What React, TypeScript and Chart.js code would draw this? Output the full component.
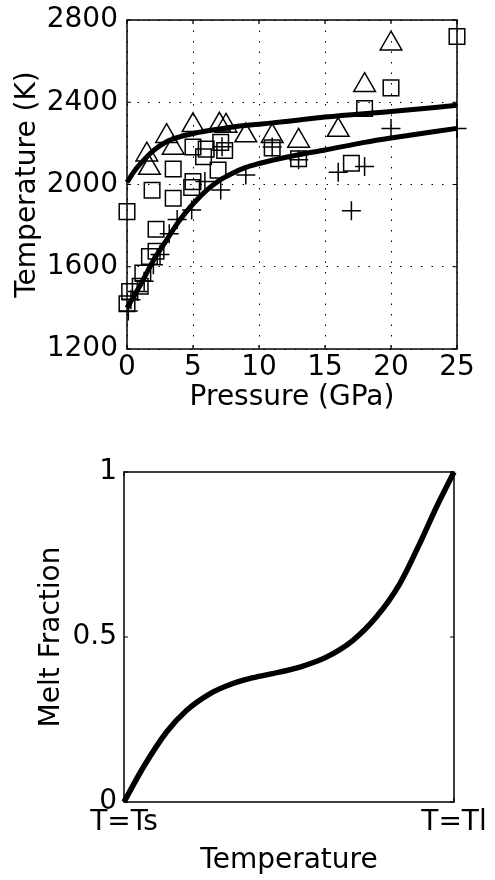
import { useEffect, useRef } from "react";
import { Chart, registerables } from "chart.js";
Chart.register(...registerables);

// ---------- Top panel data ----------
const pressureTicks = [0, 5, 10, 15, 20, 25];
const temperatureTicks = [1200, 1600, 2000, 2400, 2800];

const squareP = [0, 0.2, 1.0, 1.2, 1.7, 2.2, 2.2, 0, 1.9, 3.5, 3.5, 4.9, 5.0, 5.0, 5.8, 6.0, 6.9, 7.1, 7.4, 11, 13, 17, 18, 20, 25];
const squareT = [1420, 1480, 1505, 1570, 1650, 1675, 1782, 1868, 1972, 1933, 2075, 1985, 2014, 2182, 2135, 2172, 2070, 2205, 2165, 2178, 2125, 2103, 2370, 2470, 2720];

const triangleP = [1.5, 1.7, 3.0, 3.5, 5.0, 7.0, 7.5, 9.0, 11, 13, 16, 18, 20];
const triangleT = [2145, 2080, 2235, 2178, 2288, 2290, 2285, 2238, 2235, 2212, 2265, 2483, 2685];

const plusP = [0.1, 0.3, 0.8, 1.3, 2.0, 2.5, 3.2, 3.8, 4.9, 5.9, 7.1, 7.2, 9.0, 11, 13, 16, 17, 18, 20, 25];
const plusT = [1385, 1440, 1480, 1530, 1610, 1660, 1760, 1830, 1876, 2015, 1973, 2184, 2046, 2182, 2120, 2060, 1872, 2088, 2272, 2272];

const upperP = [0, 0.5, 1, 2, 3, 4, 5, 6, 8, 10, 12, 15, 20, 25];
const upperT = [2010, 2060, 2100, 2165, 2208, 2232, 2248, 2260, 2280, 2293, 2306, 2328, 2355, 2385];

const lowerP = [0, 1, 2, 3, 4, 5, 6, 7, 8, 9, 10, 11, 13, 15, 18, 20, 25];
const lowerT = [1400, 1510, 1630, 1730, 1827, 1905, 1970, 2020, 2055, 2083, 2102, 2118, 2145, 2168, 2205, 2226, 2273];

// ---------- Bottom panel data ----------
const meltTemp = [0, 0.059, 0.129, 0.19, 0.26, 0.33, 0.38, 0.45, 0.533, 0.613, 0.694, 0.765, 0.836, 0.896, 0.947, 1.0];
const meltFrac = [0, 0.106, 0.212, 0.278, 0.328, 0.359, 0.374, 0.389, 0.409, 0.439, 0.49, 0.561, 0.662, 0.783, 0.894, 1.0];
const tempTickValues = [0, 1];
const tempTickLabels = ["T=Ts", "T=Tl"];
const fracTicks = [0, 0.5, 1];
const fracTickLabels = ["0", "0.5", "1"];

const FONT = { family: "'DejaVu Sans', sans-serif", size: 28 };

const pts = (xs: number[], ys: number[]) => xs.map((x, i) => ({ x, y: ys[i] }));

const fixSize = (prop: "width" | "height", v: number) => (s: any) => {
  s[prop] = v;
  s.paddingTop = 0;
  s.paddingBottom = 0;
  s.paddingLeft = 0;
  s.paddingRight = 0;
};

const boxPlugin = {
  id: "matlabBox",
  afterDraw(chart: any) {
    const { ctx, chartArea } = chart;
    const { left, right, top, bottom } = chartArea;
    ctx.save();
    ctx.strokeStyle = "#000";
    ctx.lineWidth = 1.5;
    ctx.strokeRect(left, top, right - left, bottom - top);
    ctx.beginPath();
    const xs = chart.scales.x;
    const ys = chart.scales.y;
    xs.ticks.forEach((t: any) => {
      const px = xs.getPixelForValue(t.value);
      ctx.moveTo(px, bottom);
      ctx.lineTo(px, bottom - 4);
      ctx.moveTo(px, top);
      ctx.lineTo(px, top + 4);
    });
    ys.ticks.forEach((t: any) => {
      const py = ys.getPixelForValue(t.value);
      ctx.moveTo(left, py);
      ctx.lineTo(left + 4, py);
      ctx.moveTo(right, py);
      ctx.lineTo(right - 4, py);
    });
    ctx.lineWidth = 1.2;
    ctx.stroke();
    ctx.restore();
  },
};

function TopChart() {
  const ref = useRef<HTMLCanvasElement>(null);
  useEffect(() => {
    const markerCommon = {
      type: "scatter" as const,
      borderColor: "#000",
      backgroundColor: "rgba(0,0,0,0)",
      borderWidth: 1.5,
      showLine: false,
      clip: false as any,
    };
    const chart = new Chart(ref.current as HTMLCanvasElement, {
      type: "scatter",
      data: {
        datasets: [
          {
            label: "upper",
            data: pts(upperP, upperT),
            showLine: true,
            borderColor: "#000",
            borderWidth: 5,
            pointRadius: 0,
            cubicInterpolationMode: "monotone",
            clip: false as any,
          } as any,
          {
            label: "lower",
            data: pts(lowerP, lowerT),
            showLine: true,
            borderColor: "#000",
            borderWidth: 5,
            pointRadius: 0,
            cubicInterpolationMode: "monotone",
            clip: false as any,
          } as any,
          { ...markerCommon, label: "squares", data: pts(squareP, squareT), pointStyle: "rect", pointRadius: 11 } as any,
          { ...markerCommon, label: "triangles", data: pts(triangleP, triangleT), pointStyle: "triangle", pointRadius: 12.5 } as any,
          { ...markerCommon, label: "plus", data: pts(plusP, plusT), pointStyle: "cross", pointRadius: 9.5 } as any,
        ],
      },
      options: {
        animation: false,
        responsive: false,
        events: [],
        layout: { padding: { left: 0, right: 38, top: 20, bottom: 0 } },
        plugins: { legend: { display: false }, tooltip: { enabled: false } },
        scales: {
          x: {
            type: "linear",
            min: 0,
            max: 25,
            afterBuildTicks: (s: any) => {
              s.ticks = pressureTicks.map((v) => ({ value: v }));
            },
            afterFit: fixSize("height", 71),
            ticks: { font: FONT, color: "#000", padding: 2, callback: (v: any) => String(v), maxRotation: 0, autoSkip: false },
            grid: { color: "#000", lineWidth: 1, drawTicks: false },
            border: { display: false, dash: [1.5, 9] },
            title: { display: true, text: "Pressure (GPa)", font: FONT, color: "#000", padding: { top: 0, bottom: 5 } },
          },
          y: {
            type: "linear",
            min: 1200,
            max: 2800,
            afterBuildTicks: (s: any) => {
              s.ticks = temperatureTicks.map((v) => ({ value: v }));
            },
            afterFit: fixSize("width", 127),
            ticks: { font: FONT, color: "#000", padding: 9, callback: (v: any) => String(v), autoSkip: false },
            grid: { color: "#000", lineWidth: 1, drawTicks: false },
            border: { display: false, dash: [1.5, 9] },
            title: { display: true, text: "Temperature (K)", font: FONT, color: "#000", padding: { top: 11, bottom: 0 } },
          },
        },
      },
      plugins: [boxPlugin],
    });
    return () => chart.destroy();
  }, []);
  return <canvas ref={ref} width={495} height={420} style={{ width: 495, height: 420, display: "block" }} />;
}

function BottomChart() {
  const ref = useRef<HTMLCanvasElement>(null);
  useEffect(() => {
    const chart = new Chart(ref.current as HTMLCanvasElement, {
      type: "scatter",
      data: {
        datasets: [
          {
            label: "melt",
            data: pts(meltTemp, meltFrac),
            showLine: true,
            borderColor: "#000",
            borderWidth: 5.5,
            pointRadius: 0,
            cubicInterpolationMode: "monotone",
            clip: false as any,
          } as any,
        ],
      },
      options: {
        animation: false,
        responsive: false,
        events: [],
        layout: { padding: { left: 0, right: 41, top: 52, bottom: 0 } },
        plugins: { legend: { display: false }, tooltip: { enabled: false } },
        scales: {
          x: {
            type: "linear",
            min: 0,
            max: 1,
            afterBuildTicks: (s: any) => {
              s.ticks = tempTickValues.map((v) => ({ value: v }));
            },
            afterFit: fixSize("height", 78),
            ticks: {
              font: FONT,
              color: "#000",
              padding: 4,
              maxRotation: 0,
              autoSkip: false,
              callback: (_v: any, i: number) => tempTickLabels[i],
            },
            grid: { display: false, drawTicks: false },
            border: { display: false },
            title: { display: true, text: "Temperature", font: FONT, color: "#000", padding: { top: 0, bottom: 2 } },
          },
          y: {
            type: "linear",
            min: 0,
            max: 1,
            afterBuildTicks: (s: any) => {
              s.ticks = fracTicks.map((v) => ({ value: v }));
            },
            afterFit: fixSize("width", 124),
            ticks: {
              font: FONT,
              color: "#000",
              padding: 7,
              autoSkip: false,
              callback: (_v: any, i: number) => fracTickLabels[i],
            },
            grid: { display: false, drawTicks: false },
            border: { display: false },
            title: { display: true, text: "Melt Fraction", font: FONT, color: "#000", padding: { top: 35, bottom: 0 } },
          },
        },
      },
      plugins: [boxPlugin],
    });
    return () => chart.destroy();
  }, []);
  return <canvas ref={ref} width={495} height={460} style={{ width: 495, height: 460, display: "block" }} />;
}

export default function App() {
  return (
    <div style={{ position: "absolute", left: 0, top: 0, width: 495, height: 880, background: "#fff" }}>
      <div style={{ position: "absolute", left: 0, top: 0, width: 495, height: 420 }}>
        <TopChart />
      </div>
      <div style={{ position: "absolute", left: 0, top: 420, width: 495, height: 460 }}>
        <BottomChart />
      </div>
    </div>
  );
}
